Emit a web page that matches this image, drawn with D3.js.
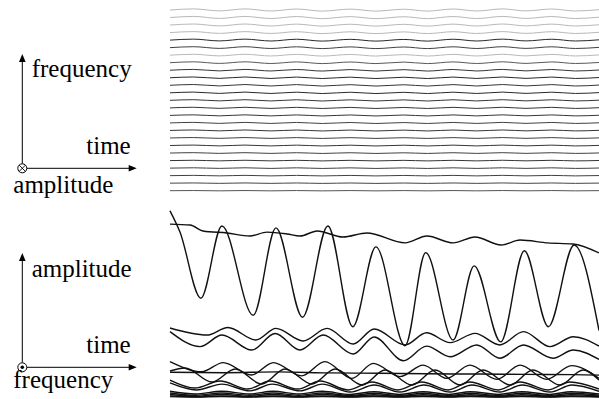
<!DOCTYPE html>
<html>
<head>
<meta charset="utf-8">
<script src="https://cdn.jsdelivr.net/npm/d3@7/dist/d3.min.js"></script>
<style>
  body { margin: 0; background: #fff; }
  svg { display: block; }
  .label { font-family: "Liberation Serif", "Times New Roman", serif; font-size: 25px; fill: #000; }
</style>
</head>
<body>
<div id="chart"></div>
<script>
// ---- data ----
// time runs 0..10 across both panels; amplitude is 0..1 in the lower panel

// top view: one line per frequency bin, bin 1 at the bottom, bin 25 at the top
const bins = d3.range(1, 26);
// darkness of each bin line (0 white, 1 black), bin 1 first
const binLevels = [0.72, 0.78, 0.8, 0.8, 0.85, 0.8, 0.85, 0.8, 0.85, 0.8, 0.85, 0.85, 0.85,
                   0.9, 0.85, 0.9, 0.85, 0.7, 0.3, 0.8, 0.9, 0.3, 0.3, 0.3, 0.3];
// how much each bin line wobbles, bin 1 first
const binRipple = [0.15, 0.2, 0.25, 0.3, 0.3, 0.35, 0.4, 0.4, 0.45, 0.5, 0.5, 0.55, 0.6,
                   0.65, 0.7, 0.7, 0.75, 0.8, 0.8, 0.85, 0.9, 0.9, 0.95, 1.0, 1.0];
const rippleTimes = [0, 0.55, 1.15, 1.75, 2.35, 2.95, 3.55, 4.2, 4.8, 5.45, 6.0, 6.6, 7.15, 7.75, 8.3, 8.9, 9.45, 10];
const rippleShape = [0, 1, -0.8, 1, -0.9, 0.9, -1, 0.8, -1, 0.7, -1, 0.9, -0.9, 1, -0.8, 0.9, -0.9, 0.3];

// side view: amplitude over time, [time, amplitude]
const fundamental = [[0, 0.98], [0.23, 0.87], [0.72, 0.52], [1.21, 0.90], [1.94, 0.43], [2.47, 0.89],
  [3.09, 0.42], [3.68, 0.90], [4.26, 0.37], [4.80, 0.79], [5.48, 0.27], [5.96, 0.76], [6.60, 0.30],
  [7.09, 0.69], [7.71, 0.29], [8.26, 0.77], [8.82, 0.37], [9.42, 0.80], [10, 0.35]];
const slowBin = [[0, 0.91], [0.47, 0.905], [0.77, 0.874], [1.33, 0.863], [1.86, 0.847], [2.26, 0.868],
  [2.73, 0.858], [3.03, 0.847], [3.43, 0.874], [4.03, 0.842], [4.59, 0.863], [5.48, 0.811], [5.99, 0.847],
  [6.60, 0.811], [7.11, 0.842], [7.72, 0.800], [8.16, 0.826], [8.81, 0.811], [9.39, 0.805], [10, 0.758]];
const midBinA = [[0, 0.363], [0.86, 0.326], [1.35, 0.366], [2.00, 0.300], [2.47, 0.361], [3.10, 0.295],
  [3.66, 0.361], [4.27, 0.279], [4.76, 0.358], [5.48, 0.274], [5.98, 0.338], [6.53, 0.286], [7.11, 0.335],
  [7.69, 0.274], [8.24, 0.344], [8.86, 0.265], [9.40, 0.317], [10, 0.268]];
const midBinB = [[0, 0.344], [0.70, 0.265], [1.21, 0.326], [1.91, 0.247], [2.45, 0.334], [3.03, 0.247],
  [3.57, 0.326], [4.27, 0.226], [4.76, 0.316], [5.44, 0.191], [5.98, 0.268], [6.53, 0.212], [7.15, 0.274],
  [7.69, 0.204], [8.24, 0.274], [8.93, 0.204], [9.40, 0.247], [10, 0.198]];
const lowBinA = [[0, 0.186], [0.74, 0.133], [1.24, 0.181], [1.90, 0.116], [2.41, 0.181], [3.07, 0.111],
  [3.61, 0.186], [4.24, 0.098], [4.74, 0.177], [5.36, 0.107], [5.90, 0.168], [6.45, 0.098], [6.99, 0.168],
  [7.62, 0.093], [8.16, 0.168], [8.78, 0.093], [9.36, 0.165], [10, 0.098]];
const lowBinB = [[0, 0.130], [1.3, 0.128], [2.5, 0.132], [3.7, 0.127], [4.9, 0.125], [6.0, 0.122],
  [7.2, 0.121], [8.3, 0.119], [9.4, 0.118], [10, 0.115]];
const lowBinC = [[0, 0.137], [0.35, 0.153], [0.98, 0.079], [1.52, 0.147], [2.14, 0.068], [2.68, 0.147],
  [3.31, 0.068], [3.85, 0.147], [4.48, 0.063], [5.01, 0.142], [5.64, 0.063], [6.18, 0.142], [6.76, 0.063],
  [7.30, 0.142], [7.93, 0.063], [8.46, 0.142], [9.09, 0.063], [9.63, 0.142], [10, 0.089]];
const lowBinD = [[0, 0.089], [0.58, 0.047], [1.17, 0.084], [1.82, 0.042], [2.33, 0.084], [2.98, 0.042],
  [3.50, 0.084], [4.15, 0.037], [4.71, 0.079], [5.31, 0.037], [5.87, 0.079], [6.48, 0.037], [6.99, 0.079],
  [7.65, 0.037], [8.16, 0.079], [8.81, 0.037], [9.32, 0.079], [10, 0.042]];
const lowBinE = [[0, 0.074], [0.62, 0.037], [1.21, 0.068], [1.86, 0.032], [2.38, 0.068], [3.03, 0.032],
  [3.55, 0.068], [4.20, 0.026], [4.76, 0.063], [5.36, 0.026], [5.92, 0.063], [6.53, 0.026], [7.04, 0.063],
  [7.69, 0.026], [8.21, 0.063], [8.86, 0.026], [9.37, 0.063], [10, 0.030]];
// the crowded high bins near zero
const bandTimes = [0, 0.6, 1.2, 1.85, 2.4, 3.0, 3.55, 4.2, 4.75, 5.35, 5.9, 6.5, 7.0, 7.65, 8.2, 8.85, 9.35, 10];
const band1 = [0.030, 0.016, 0.030, 0.016, 0.030, 0.016, 0.030, 0.014, 0.028, 0.014, 0.028, 0.014, 0.028, 0.014, 0.028, 0.014, 0.028, 0.016];
const band2 = [0.021, 0.009, 0.021, 0.009, 0.021, 0.009, 0.021, 0.008, 0.020, 0.008, 0.020, 0.008, 0.020, 0.008, 0.020, 0.008, 0.020, 0.010];
const band3 = [0.013, 0.004, 0.013, 0.004, 0.013, 0.004, 0.013, 0.004, 0.012, 0.004, 0.012, 0.004, 0.012, 0.004, 0.012, 0.004, 0.012, 0.005];
const band4 = [0.006, 0.001, 0.006, 0.001, 0.006, 0.001, 0.006, 0.001, 0.006, 0.001, 0.006, 0.001, 0.006, 0.001, 0.006, 0.001, 0.006, 0.002];
const band5 = [0.002, 0.000, 0.002, 0.000, 0.002, 0.000, 0.002, 0.000, 0.002, 0.000, 0.002, 0.000, 0.002, 0.000, 0.002, 0.000, 0.002, 0.000];

const sideSeries = [fundamental, slowBin, midBinA, midBinB, lowBinA, lowBinB, lowBinC, lowBinD, lowBinE]
  .concat([band1, band2, band3, band4, band5].map(vals => bandTimes.map((t, i) => [t, vals[i]])));

// ---- drawing ----
const W = 599, H = 399;
const svg = d3.select("#chart").append("svg").attr("width", W).attr("height", H);

const x = d3.scaleLinear().domain([0, 10]).range([170, 599]);
const fy = d3.scaleLinear().domain([1, 25]).range([190.7, 10]);
const ay = d3.scaleLinear().domain([0, 1]).range([397, 207]);
const shade = d3.scaleLinear().domain([0, 1]).range(["#ffffff", "#111111"]);
const wobble = d3.scaleLinear().domain([-1, 1]).range([1.1, -1.1]);

// top panel
const topLine = d3.line().curve(d3.curveMonotoneX);
svg.append("g")
  .selectAll("path")
  .data(bins)
  .enter().append("path")
  .attr("fill", "none")
  .attr("stroke", (b, i) => shade(binLevels[i]))
  .attr("stroke-width", 1)
  .attr("d", (b, i) => topLine(rippleTimes.map((t, k) => [x(t), fy(b) + wobble(rippleShape[k] * binRipple[i])])));

// bottom panel
const sideLine = d3.line()
  .x(d => x(d[0]))
  .y(d => ay(d[1]))
  .curve(d3.curveMonotoneX);
svg.append("g")
  .selectAll("path")
  .data(sideSeries)
  .enter().append("path")
  .attr("fill", "none")
  .attr("stroke", "#111")
  .attr("stroke-width", 1.4)
  .attr("d", sideLine);

// little axis glyphs on the left
function axisGlyph(cy, upText, upBase, downText, downBase, mark) {
  const g = svg.append("g");
  const cx = 22.3, r = 4.5, tipY = cy - 114.3, tipX = 136.7;
  g.append("line").attr("x1", cx).attr("y1", cy - r).attr("x2", cx).attr("y2", tipY + 7)
    .attr("stroke", "#000").attr("stroke-width", 1);
  g.append("path").attr("d", `M${cx},${tipY}L${cx - 3.3},${tipY + 8}L${cx + 3.3},${tipY + 8}Z`).attr("fill", "#000");
  g.append("line").attr("x1", cx + r).attr("y1", cy).attr("x2", tipX - 7).attr("y2", cy)
    .attr("stroke", "#000").attr("stroke-width", 1);
  g.append("path").attr("d", `M${tipX},${cy}L${tipX - 8},${cy - 3.3}L${tipX - 8},${cy + 3.3}Z`).attr("fill", "#000");
  g.append("circle").attr("cx", cx).attr("cy", cy).attr("r", r)
    .attr("fill", "#fff").attr("stroke", "#000").attr("stroke-width", 1);
  if (mark === "cross") {
    const k = r * 0.707;
    g.append("path").attr("d", `M${cx - k},${cy - k}L${cx + k},${cy + k}M${cx - k},${cy + k}L${cx + k},${cy - k}`)
      .attr("stroke", "#000").attr("stroke-width", 0.9);
  } else {
    g.append("circle").attr("cx", cx).attr("cy", cy).attr("r", 1.8).attr("fill", "#000");
  }
  g.append("text").attr("class", "label").attr("x", 31.7).attr("y", upBase).text(upText);
  g.append("text").attr("class", "label").attr("x", 130.7).attr("y", cy - 14).attr("text-anchor", "end").text("time");
  g.append("text").attr("class", "label").attr("x", 13.3).attr("y", downBase).text(downText);
}

axisGlyph(168.3, "frequency", 77.3, "amplitude", 192.7, "cross");
axisGlyph(367.3, "amplitude", 276.7, "frequency", 388.3, "dot");
</script>
</body>
</html>
